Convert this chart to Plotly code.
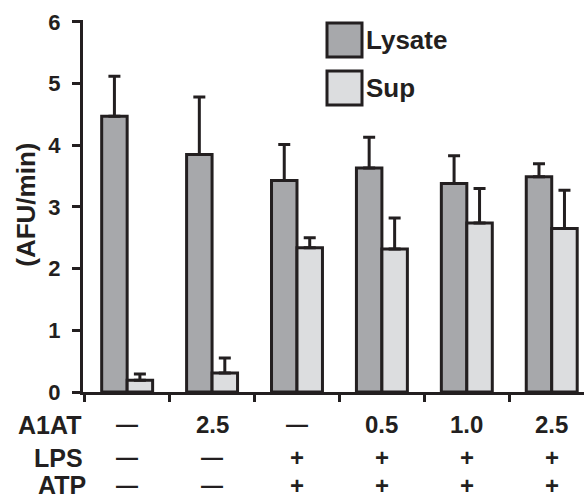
import plotly.graph_objects as go

categories = ["c1", "c2", "c3", "c4", "c5", "c6"]
lysate = [4.47, 3.85, 3.43, 3.63, 3.38, 3.49]
lysate_err = [0.65, 0.93, 0.58, 0.50, 0.45, 0.21]
sup = [0.19, 0.31, 2.34, 2.32, 2.74, 2.65]
sup_err = [0.10, 0.24, 0.16, 0.50, 0.56, 0.62]

a1at = ["—", "2.5", "—", "0.5", "1.0", "2.5"]
lps = ["—", "—", "+", "+", "+", "+"]
atp = ["—", "—", "+", "+", "+", "+"]
row_labels = ["A1AT", "LPS", "ATP"]

INK = "#231f20"
LYS_COLOR = "#a7a8ab"
SUP_COLOR = "#dcdddf"
FONT = "Liberation Sans, Arial, sans-serif"

xs = list(range(len(categories)))

fig = go.Figure()
for name, vals, errs, col in [("Lysate", lysate, lysate_err, LYS_COLOR),
                              ("Sup", sup, sup_err, SUP_COLOR)]:
    fig.add_trace(go.Bar(
        x=xs, y=vals, name=name,
        marker=dict(color=col, line=dict(color=INK, width=3)),
        error_y=dict(type="data", array=errs, arrayminus=[0] * len(errs),
                     symmetric=False, color=INK, thickness=3, width=6),
        showlegend=False,
    ))

fig.update_layout(
    width=584, height=499,
    margin=dict(l=83, r=0, t=20, b=107),
    paper_bgcolor="white", plot_bgcolor="white",
    barmode="group", bargap=0.4, bargroupgap=0,
    font=dict(family=FONT, color=INK),
    xaxis=dict(range=[-0.52, 5.38], tickmode="array",
               tickvals=[i - 0.5 for i in range(len(categories) + 1)],
               ticktext=[""] * (len(categories) + 1),
               ticks="outside", ticklen=7, tickwidth=3, tickcolor=INK,
               showline=True, linewidth=3, linecolor=INK,
               showgrid=False, zeroline=False, fixedrange=True),
    yaxis=dict(range=[0, 6.03], tickvals=[0, 1, 2, 3, 4, 5, 6],
               ticks="outside", ticklen=8, tickwidth=3, tickcolor=INK,
               ticklabelstandoff=7,
               tickfont=dict(size=22, family=FONT, color=INK, weight="bold"),
               showline=True, linewidth=3, linecolor=INK,
               showgrid=False, zeroline=False),
)

# y-axis title
fig.add_annotation(text="(AFU/min)", xref="paper", yref="paper",
                   x=-0.114, y=0.503, textangle=-90, showarrow=False,
                   xanchor="center", yanchor="middle",
                   font=dict(size=26, family=FONT, color=INK, weight="bold"))

# table under the axis
row_y = [-0.0887, -0.177, -0.25]
row_x = [0.0, 0.004, 0.01]
for label, ry, rx, row in zip(row_labels, row_y, row_x, [a1at, lps, atp]):
    fig.add_annotation(text=label, xref="paper", yref="paper", x=rx, y=ry,
                       xanchor="right", yanchor="middle", showarrow=False,
                       font=dict(size=25, family=FONT, color=INK, weight="bold"))
    for xi, txt in zip(xs, row):
        fig.add_annotation(text=txt, xref="x", yref="paper", x=xi, y=ry,
                           xanchor="center", yanchor="middle", showarrow=False,
                           font=dict(size=24 if txt != "—" else 22, family=FONT,
                                     color=INK, weight="bold"))

# legend drawn manually
legend_items = [("Lysate", LYS_COLOR), ("Sup", SUP_COLOR)]
for i, (name, col) in enumerate(legend_items):
    y0 = 1 - (3 + i * 48) / 372
    y1 = 1 - (37 + i * 48) / 372
    fig.add_shape(type="rect", xref="paper", yref="paper",
                  x0=(327 - 83) / 501, x1=(362 - 83) / 501, y0=y1, y1=y0,
                  fillcolor=col, line=dict(color=INK, width=3))
    fig.add_annotation(text=name, xref="paper", yref="paper",
                       x=(364 - 83) / 501, y=(y0 + y1) / 2,
                       xanchor="left", yanchor="middle", showarrow=False,
                       font=dict(size=26, family=FONT, color=INK, weight="bold"))

fig.write_html("out.html", config={"displayModeBar": False},
               post_script="document.body.style.margin='0';document.body.style.padding='0';")
